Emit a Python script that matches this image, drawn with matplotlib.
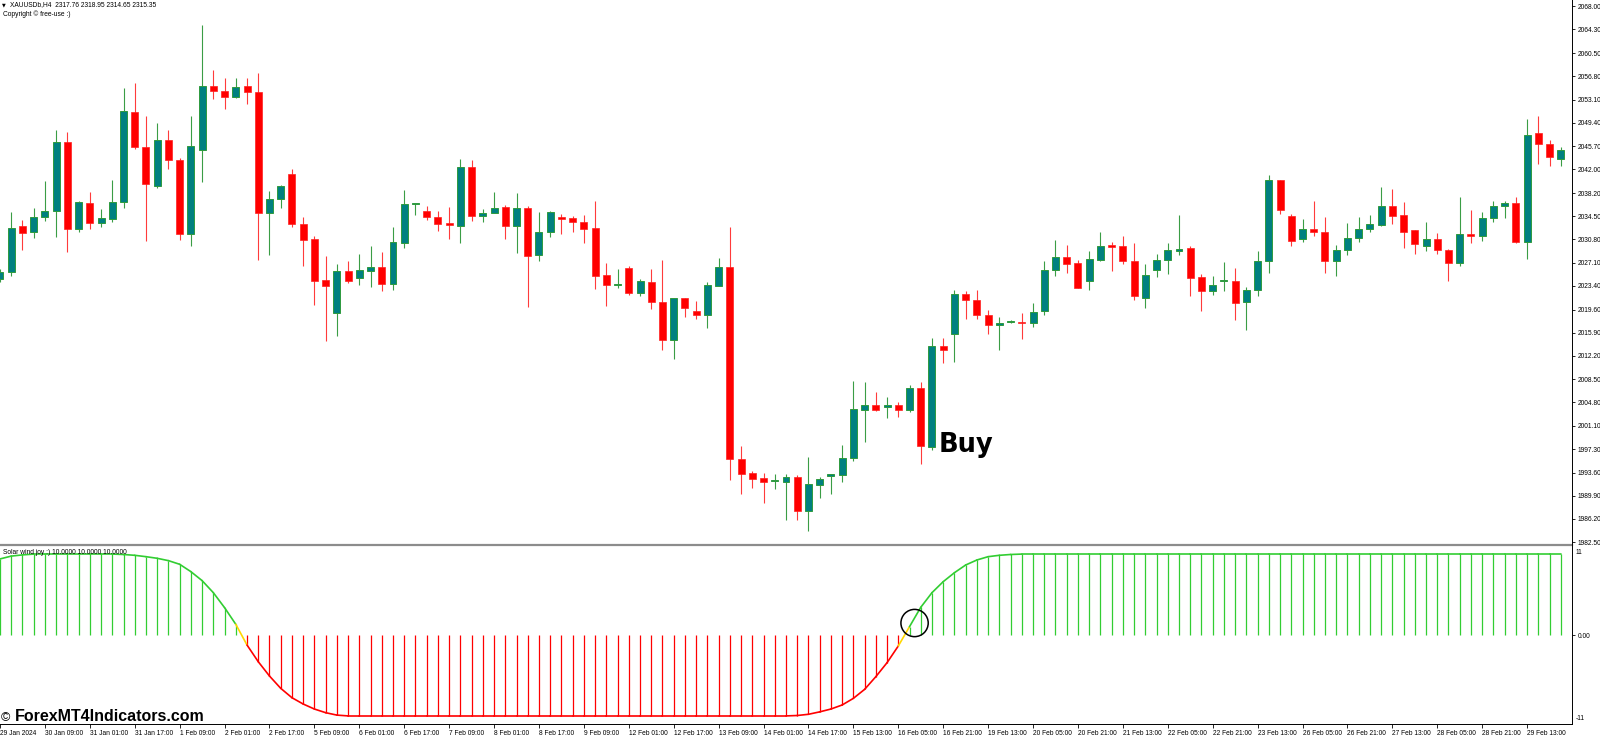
import matplotlib.pyplot as plt
import numpy as np
from matplotlib.patches import Ellipse
from matplotlib.lines import Line2D

# XAUUSD H4 candles
opens = [2024.5, 2025.6, 2032.9, 2031.9, 2034.3, 2035.3, 2046.3, 2032.5, 2036.6, 2033.4,
         2034.1, 2036.7, 2051.2, 2045.6, 2039.3, 2046.7, 2043.4, 2031.7, 2045.0, 2055.3,
         2054.5, 2053.5, 2055.2, 2054.3, 2035.0, 2037.2, 2041.3, 2033.3, 2030.8, 2024.3,
         2019.1, 2025.8, 2024.7, 2025.8, 2026.4, 2023.7, 2030.3, 2036.4, 2035.4, 2034.3,
         2033.3, 2033.0, 2042.4, 2034.6, 2035.0, 2035.9, 2033.0, 2035.8, 2028.3, 2031.9,
         2034.3, 2034.2, 2033.6, 2032.6, 2025.1, 2023.5, 2026.2, 2022.2, 2024.0, 2020.8,
         2014.7, 2021.4, 2019.4, 2018.7, 2023.4, 2026.4, 1995.7, 1993.5, 1992.7, 1992.2,
         1992.1, 1992.9, 1987.4, 1991.6, 1993.1, 1993.2, 1995.9, 2003.6, 2004.4, 2004.1,
         2004.4, 2003.6, 2007.1, 1997.7, 2013.8, 2015.7, 2022.1, 2021.2, 2018.8, 2017.2,
         2017.6, 2017.6, 2017.4, 2019.3, 2025.9, 2028.0, 2027.0, 2024.2, 2027.5, 2029.8,
         2029.8, 2027.4, 2021.4, 2025.9, 2027.5, 2029.0, 2029.4, 2024.8, 2022.5, 2024.1,
         2024.2, 2020.8, 2022.7, 2027.3, 2040.2, 2034.6, 2030.8, 2032.5, 2032.0, 2027.4,
         2029.1, 2031.0, 2032.5, 2033.1, 2036.1, 2034.7, 2032.3, 2029.8, 2030.8, 2029.1,
         2027.0, 2031.6, 2031.4, 2034.2, 2036.2, 2036.6, 2030.4, 2047.8, 2046.0, 2043.7]
highs = [2026.0, 2035.1, 2033.9, 2035.8, 2040.1, 2048.3, 2047.9, 2036.9, 2038.4, 2035.7,
         2040.3, 2055.0, 2055.7, 2050.5, 2049.3, 2048.2, 2043.8, 2050.5, 2065.0, 2057.8,
         2056.5, 2056.5, 2056.5, 2057.3, 2038.5, 2039.5, 2042.0, 2034.3, 2031.3, 2028.2,
         2026.9, 2027.4, 2028.5, 2029.8, 2028.8, 2032.8, 2038.7, 2036.6, 2036.1, 2035.3,
         2036.0, 2043.7, 2043.4, 2035.7, 2038.4, 2036.3, 2038.2, 2036.1, 2035.1, 2035.3,
         2034.8, 2034.5, 2034.7, 2036.9, 2027.1, 2026.0, 2026.6, 2024.5, 2026.1, 2027.5,
         2021.4, 2021.4, 2021.0, 2024.0, 2027.8, 2032.7, 1997.8, 1993.8, 1993.6, 1993.3,
         1993.3, 1993.2, 1996.1, 1992.9, 1993.3, 1998.0, 2008.2, 2008.0, 2006.4, 2005.6,
         2004.9, 2007.5, 2008.0, 2015.0, 2015.1, 2022.7, 2022.6, 2022.8, 2019.5, 2018.4,
         2017.9, 2019.1, 2020.7, 2027.4, 2030.7, 2029.9, 2027.5, 2029.0, 2032.0, 2030.4,
         2031.4, 2030.2, 2026.9, 2028.5, 2030.3, 2034.7, 2029.8, 2025.2, 2024.9, 2027.2,
         2026.3, 2023.2, 2029.0, 2041.1, 2040.3, 2034.8, 2034.1, 2036.9, 2034.3, 2029.9,
         2033.4, 2034.3, 2034.7, 2039.2, 2038.9, 2036.8, 2032.3, 2033.5, 2031.8, 2029.3,
         2037.6, 2035.5, 2035.1, 2036.9, 2036.9, 2037.6, 2050.0, 2050.5, 2046.6, 2045.6]
lows = [2024.0, 2024.9, 2029.1, 2031.0, 2033.8, 2031.2, 2028.8, 2032.0, 2032.5, 2032.8,
        2033.6, 2035.8, 2045.3, 2030.6, 2039.0, 2042.1, 2030.7, 2029.8, 2040.0, 2053.2,
        2051.6, 2053.3, 2052.4, 2027.5, 2028.3, 2035.8, 2032.7, 2026.6, 2020.3, 2014.6,
        2015.4, 2023.8, 2023.5, 2023.2, 2022.6, 2022.7, 2029.4, 2034.7, 2033.9, 2032.1,
        2030.9, 2030.3, 2033.8, 2033.5, 2035.0, 2030.8, 2028.7, 2020.0, 2027.4, 2031.2,
        2031.6, 2031.9, 2030.3, 2022.9, 2020.1, 2023.1, 2022.0, 2021.7, 2019.7, 2013.1,
        2011.7, 2018.4, 2018.1, 2016.7, 2023.3, 1992.4, 1990.1, 1991.2, 1988.8, 1990.9,
        1986.0, 1986.0, 1984.2, 1989.6, 1990.1, 1992.1, 1995.5, 1998.4, 2003.4, 2002.3,
        2002.5, 2003.2, 1995.0, 1997.2, 2011.0, 2011.2, 2018.1, 2018.1, 2015.7, 2013.1,
        2017.5, 2014.9, 2016.8, 2018.7, 2025.0, 2025.4, 2023.0, 2022.7, 2027.4, 2025.7,
        2026.8, 2021.2, 2019.8, 2024.8, 2025.3, 2028.3, 2021.7, 2019.4, 2021.9, 2022.6,
        2017.9, 2016.4, 2021.8, 2025.5, 2034.9, 2029.7, 2030.4, 2031.4, 2025.4, 2024.9,
        2028.3, 2030.4, 2032.0, 2032.9, 2033.3, 2029.5, 2028.5, 2029.0, 2028.4, 2024.2,
        2026.6, 2030.2, 2030.6, 2033.6, 2034.2, 2030.3, 2027.7, 2042.9, 2042.5, 2042.5]
closes = [2025.6, 2032.6, 2031.8, 2034.3, 2035.4, 2046.3, 2032.5, 2036.8, 2033.4, 2034.2,
          2036.7, 2051.3, 2045.5, 2039.6, 2046.7, 2043.4, 2031.7, 2045.7, 2055.3, 2054.4,
          2053.5, 2055.1, 2054.3, 2035.0, 2037.2, 2039.3, 2033.2, 2030.7, 2024.2, 2023.3,
          2025.8, 2024.1, 2025.9, 2026.4, 2023.7, 2030.4, 2036.4, 2036.6, 2034.3, 2033.2,
          2033.1, 2042.4, 2034.6, 2035.0, 2035.8, 2033.0, 2035.8, 2028.1, 2031.9, 2035.2,
          2034.1, 2033.5, 2032.5, 2025.0, 2023.6, 2023.6, 2022.2, 2024.1, 2020.8, 2014.8,
          2021.4, 2019.8, 2018.7, 2023.5, 2026.4, 1995.7, 1993.4, 1992.5, 1992.1, 1992.4,
          1992.9, 1987.4, 1991.7, 1992.6, 1993.3, 1995.9, 2003.7, 2004.4, 2003.6, 2004.4,
          2003.6, 2007.1, 1997.8, 2013.8, 2013.2, 2022.1, 2021.2, 2018.7, 2017.1, 2017.4,
          2017.8, 2017.4, 2019.2, 2025.9, 2028.0, 2026.9, 2023.1, 2027.7, 2029.8, 2029.6,
          2027.3, 2021.8, 2025.1, 2027.5, 2029.1, 2029.3, 2024.7, 2022.5, 2023.6, 2024.2,
          2020.7, 2022.7, 2027.3, 2040.2, 2035.5, 2030.6, 2032.5, 2032.0, 2027.3, 2029.1,
          2031.0, 2032.5, 2033.3, 2036.1, 2034.5, 2032.0, 2030.1, 2030.8, 2029.1, 2027.1,
          2031.6, 2031.3, 2034.2, 2036.2, 2036.6, 2030.4, 2047.5, 2046.0, 2043.9, 2045.1]

# Solar wind joy indicator values (one per bar)
solar = [9.4, 9.75, 9.9, 10.0, 10.0, 10.0, 10.0, 10.0, 10.0, 10.0,
         10.0, 9.95, 9.85, 9.68, 9.48, 9.19, 8.74, 7.83, 6.72, 5.23,
         3.38, 1.32, -1.24, -3.3, -5.07, -6.59, -7.75, -8.53, -9.15, -9.6,
         -9.9, -10.0, -10.0, -10.0, -10.0, -10.0, -10.0, -10.0, -10.0, -10.0,
         -10.0, -10.0, -10.0, -10.0, -10.0, -10.0, -10.0, -10.0, -10.0, -10.0,
         -10.0, -10.0, -10.0, -10.0, -10.0, -10.0, -10.0, -10.0, -10.0, -10.0,
         -10.0, -10.0, -10.0, -10.0, -10.0, -10.0, -10.0, -10.0, -10.0, -10.0,
         -10.0, -9.95, -9.8, -9.5, -9.15, -8.65, -7.83, -6.72, -5.15, -3.42,
         -1.36, 1.03, 3.42, 5.23, 6.59, 7.7, 8.65, 9.27, 9.68, 9.85,
         9.95, 10.0, 10.0, 10.0, 10.0, 10.0, 10.0, 10.0, 10.0, 10.0,
         10.0, 10.0, 10.0, 10.0, 10.0, 10.0, 10.0, 10.0, 10.0, 10.0,
         10.0, 10.0, 10.0, 10.0, 10.0, 10.0, 10.0, 10.0, 10.0, 10.0,
         10.0, 10.0, 10.0, 10.0, 10.0, 10.0, 10.0, 10.0, 10.0, 10.0,
         10.0, 10.0, 10.0, 10.0, 10.0, 10.0, 10.0, 10.0, 10.0, 10.0]

time_labels = ['29 Jan 2024', '30 Jan 09:00', '31 Jan 01:00', '31 Jan 17:00', '1 Feb 09:00',
               '2 Feb 01:00', '2 Feb 17:00', '5 Feb 09:00', '6 Feb 01:00', '6 Feb 17:00',
               '7 Feb 09:00', '8 Feb 01:00', '8 Feb 17:00', '9 Feb 09:00', '12 Feb 01:00',
               '12 Feb 17:00', '13 Feb 09:00', '14 Feb 01:00', '14 Feb 17:00', '15 Feb 13:00',
               '16 Feb 05:00', '16 Feb 21:00', '19 Feb 13:00', '20 Feb 05:00', '20 Feb 21:00',
               '21 Feb 13:00', '22 Feb 05:00', '22 Feb 21:00', '23 Feb 13:00', '26 Feb 05:00',
               '26 Feb 21:00', '27 Feb 13:00', '28 Feb 05:00', '28 Feb 21:00', '29 Feb 13:00']
price_ticks = [2068.00, 2064.30, 2060.50, 2056.80, 2053.10, 2049.40, 2045.70, 2042.00,
               2038.20, 2034.50, 2030.80, 2027.10, 2023.40, 2019.60, 2015.90, 2012.20,
               2008.50, 2004.80, 2001.10, 1997.30, 1993.60, 1989.90, 1986.20, 1982.50]

buy_bar = 83
signal_bar = 81

W, H = 1600, 736
FONT = ['Liberation Sans', 'DejaVu Sans']


def fx(px):
    return px / W


def fy(py):
    return 1 - py / H


fig = plt.figure(figsize=(16, 7.36), dpi=100, facecolor='white')
ax = fig.add_axes([0, fy(543), fx(1572), 543 / H])
ax2 = fig.add_axes([0, fy(724), fx(1572), 178 / H])

x = np.arange(len(opens))
o = np.array(opens)
h = np.array(highs)
l = np.array(lows)
c = np.array(closes)
up = c >= o

# candles
ax.vlines(x[up], l[up], h[up], color='#3a9d45', lw=0.8, zorder=2)
ax.vlines(x[~up], l[~up], h[~up], color='#ff3b3b', lw=0.8, zorder=2)
body_lo = np.minimum(o, c)
body_h = np.maximum(np.abs(c - o), 0.25)
ax.bar(x[up], body_h[up], bottom=body_lo[up], width=0.62, color='#008080',
       edgecolor='#2e9a3e', linewidth=0.7, zorder=3)
ax.bar(x[~up], body_h[~up], bottom=body_lo[~up], width=0.62, color='#ff0000',
       edgecolor='#ff2020', linewidth=0.5, zorder=3)

ax.set_xlim(0, 140)
ax.set_ylim(1982.35, 2069.0)
for s in ax.spines.values():
    s.set_visible(False)
ax.set_xticks([])
ax.yaxis.tick_right()
ax.set_yticks(price_ticks)
ax.set_yticklabels(['%.2f' % p for p in price_ticks], fontsize=4.8, family=FONT)
ax.tick_params(axis='y', direction='out', length=2.5, width=0.6, pad=1.5)

ax.text(buy_bar + 0.56, lows[buy_bar] - 0.3, 'Buy', fontsize=18.5, fontweight='bold',
        family='DejaVu Sans', va='baseline', ha='left', color='black', zorder=5)

# indicator window
sv = np.array(solar)
pos = sv > 0
ax2.vlines(x[pos], 0, sv[pos], color='#32cd32', lw=0.9)
ax2.vlines(x[~pos], 0, sv[~pos], color='#ff0000', lw=0.9)
for i in range(len(sv) - 1):
    if sv[i] > 0 and sv[i + 1] > 0:
        col = '#32cd32'
    elif sv[i] < 0 and sv[i + 1] < 0:
        col = '#ff0000'
    else:
        col = '#ffd700'
    ax2.plot(x[i:i + 2], sv[i:i + 2], color=col, lw=1.2, solid_capstyle='round')

ax2.add_patch(Ellipse((signal_bar + 0.45, sv[signal_bar] + 0.45), 2.43, 3.37,
                      fill=False, edgecolor='black', lw=1.1, zorder=5))

ax2.set_xlim(0, 140)
ax2.set_ylim(-11, 11)
for s in ax2.spines.values():
    s.set_visible(False)
ax2.yaxis.tick_right()
ax2.set_yticks([0])
ax2.set_yticklabels(['0.00'], fontsize=4.8, family=FONT)
ax2.tick_params(axis='y', direction='out', length=2.5, width=0.6, pad=1.5)
ax2.set_xticks(x[::4][:len(time_labels)])
ax2.set_xticklabels(time_labels, fontsize=4.8, family=FONT, ha='left')
ax2.tick_params(axis='x', direction='out', length=3, width=0.6, pad=1.2)

# frame lines
fig.add_artist(Line2D([0, fx(1572)], [fy(544.5), fy(544.5)], color='#8c8c8c', lw=1.6))
fig.add_artist(Line2D([fx(1572), fx(1572)], [fy(0), fy(724)], color='black', lw=0.7))
fig.add_artist(Line2D([0, fx(1572)], [fy(724), fy(724)], color='black', lw=0.7))

# labels
fig.text(fx(1576), fy(552), '11', fontsize=4.8, family=FONT, va='center')
fig.text(fx(1576), fy(719), '-11', fontsize=4.8, family=FONT, va='center')
fig.text(fx(2), fy(5), '\u25bc', fontsize=3.5, family='DejaVu Sans', va='center')
fig.text(fx(10), fy(5), 'XAUUSDb,H4  2317.76 2318.95 2314.65 2315.35', fontsize=4.8,
         family=FONT, va='center')
fig.text(fx(3), fy(14), 'Copyright \u00a9 free-use :)', fontsize=4.8, family=FONT, va='center')
fig.text(fx(3), fy(552), 'Solar wind joy :) 10.0000 10.0000 10.0000', fontsize=4.8,
         family=FONT, va='center')
fig.text(fx(1), fy(721), '\u00a9', fontsize=9, family=FONT, va='baseline')
fig.text(fx(15), fy(721), 'ForexMT4Indicators.com', fontsize=11.5, fontweight='bold',
         family=FONT, va='baseline')

fig.savefig('out.png', dpi=100, facecolor='white')
